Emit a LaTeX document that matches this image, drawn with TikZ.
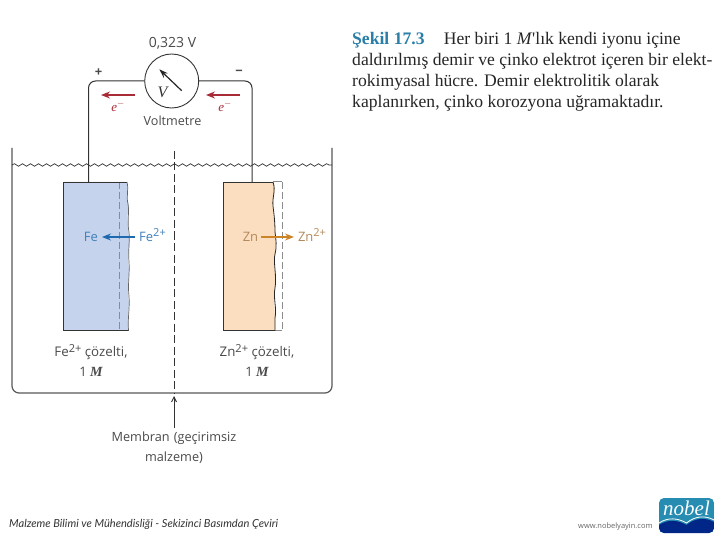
\documentclass[tikz,border=0pt]{standalone}
\usepackage{fontspec}
\setmainfont{Open Sans}
\newfontfamily\serifx{Liberation Serif}
\newfontfamily\footx{Lato}
\usetikzlibrary{decorations.pathmorphing,arrows.meta}
\definecolor{feblue}{HTML}{C5D3EC}
\definecolor{znorange}{HTML}{FBDDBF}
\definecolor{ionblue}{HTML}{1F6AAE}
\definecolor{znarrow}{HTML}{CC8426}
\definecolor{zntext}{HTML}{B58A5C}
\definecolor{redarrow}{HTML}{A82C38}
\definecolor{txt}{HTML}{4A4A4A}
\definecolor{capblue}{HTML}{2A7FA8}
\newcommand{\ionsup}[1]{\raisebox{0.62ex}{\fontsize{11}{11}\selectfont #1}}
\tikzset{
  lbl/.style={font=\fontsize{12.6}{12.6}\selectfont, text=txt, inner sep=0pt, align=center},
  captxt/.style={font=\fontsize{17.6}{17.6}\serifx, text=black!85, inner sep=0pt, anchor=base west},
  wire/.style={draw=black!80, line width=1pt},
  redarr/.style={draw=redarrow, line width=1.3pt, -{Stealth[length=9pt,width=7pt]}},
  elabel/.style={font=\fontsize{13}{13}\serifx\itshape, text=redarrow, inner sep=0pt},
  water/.style={draw=black!80, line width=0.7pt, decorate, decoration={snake, segment length=8pt, amplitude=1.3pt}},
  dashgray/.style={draw=black!45, line width=1pt, dash pattern=on 7pt off 3pt},
  rough/.style={draw=black!85, line width=0.8pt},
}
\begin{document}
\begin{tikzpicture}[x=1pt,y=-1pt]
\useasboundingbox (0,0) rectangle (720,540);
\fill[white] (0,0) rectangle (720,540);
% tank
\draw[draw=black!65, line width=1.2pt, rounded corners=7pt] (12,148) -- (12,393) -- (332,393) -- (332,148);
\draw[water] (12,165) -- (332,165);
% electrodes
\fill[feblue] (63.5,182) -- (127,182) -- (128,190) -- (127,198) -- (129,206) -- (127.5,216) -- (128,226) -- (129.5,244) -- (128,256) -- (129,272) -- (128,290) -- (129,305) -- (128,318) -- (128.5,330.5) -- (63.5,330.5) -- cycle;
\fill[znorange] (223.3,182) -- (273,182) -- (275,190) -- (273,200) -- (273,212) -- (275,225) -- (276,246) -- (274,262) -- (276,280) -- (274,300) -- (275,318) -- (275,330.5) -- (223.3,330.5) -- cycle;
\draw[dashgray] (119,182) -- (119,330.5);
\draw[draw=black!45, line width=1pt] (273,182) -- (282,182) (275,330.5) -- (282,330.5);
\draw[dashgray] (282,182) -- (282,330.5);
\draw[draw=black!80, line width=0.9pt] (127,182) -- (63.5,182) -- (63.5,330.5) -- (128.5,330.5);
\draw[rough, draw=black!60, line width=0.7pt] (127,182) .. controls (129,190) and (126,196) .. (128,204) .. controls (129.5,212) and (127,222) .. (129,232) .. controls (130,240) and (128,250) .. (129,262) .. controls (130,272) and (127.5,284) .. (129,296) .. controls (130,308) and (127.5,318) .. (128.5,330.5);
\draw[draw=black!80, line width=0.9pt] (273,182) -- (223.3,182) -- (223.3,330.5) -- (275,330.5);
\draw[rough] (273,182) .. controls (276,190) and (272,198) .. (273,206) .. controls (274,214) and (275,222) .. (275,232) .. controls (276,240) and (277,246) .. (275,254) .. controls (273,262) and (277,276) .. (275,288) .. controls (273,298) and (277,308) .. (275,318) -- (275,330.5);
% membrane
\draw[draw=black!80, line width=1pt, dash pattern=on 8pt off 3.5pt] (174,151) -- (174,393);
% meter
\node (meter) [circle, draw=black!80, line width=0.9pt, minimum size=54pt, inner sep=0pt] at (171.7,81) {};
\coordinate (needleA) at (181.7,90.7);
\coordinate (needleB) at (159.3,69.3);
\draw[draw=black!85, line width=1.2pt, -{Stealth[length=9pt,width=6pt]}] (needleA) -- (needleB);
\node (vv) [font=\fontsize{16}{16}\serifx\itshape, text=black!80, inner sep=0pt] at (162.5,92) {V};
\node (topfe) [inner sep=0pt, minimum size=0pt] at (88.5,182) {};
\node (topzn) [inner sep=0pt, minimum size=0pt] at (252,182) {};
\draw[wire, rounded corners=7pt] (meter.west) -- (88.5,81) -- (topfe);
\draw[wire, rounded corners=7pt] (meter.east) -- (252,81) -- (topzn);
\node (volt) [lbl, font=\fontsize{14}{14}\selectfont] at (172.5,43) {0,323 V};
\node (plus) [lbl, font=\fontsize{13}{13}\selectfont\bfseries] at (98.5,72.5) {+};
\node (minus) [lbl, font=\fontsize{13}{13}\selectfont\bfseries] at (239,72.5) {−};
\node (vmname) [lbl] at (172.5,121) {Voltmetre};
% electron arrows
\coordinate (ra1) at (135,95); \coordinate (ra2) at (101,95);
\coordinate (rb1) at (240,95); \coordinate (rb2) at (206,95);
\draw[redarr] (ra1) -- (ra2);
\draw[redarr] (rb1) -- (rb2);
\node (e1) [elabel] at (118,106.5) {e$^{-}$};
\node (e2) [elabel] at (225,106.5) {e$^{-}$};
% ions
\node (fe) [lbl, text=ionblue!85!white, font=\fontsize{13}{13}\selectfont] at (91,237) {Fe};
\node (fei) [lbl, text=ionblue!85!white, font=\fontsize{13}{13}\selectfont] at (152.5,235) {Fe\ionsup{2+}};
\coordinate (fs) at (135,237); \coordinate (fe2) at (102,237);
\draw[draw=ionblue, line width=1.3pt, -{Stealth[length=9pt,width=7pt]}] (fs) -- (fe2);
\node (zn) [lbl, text=zntext, font=\fontsize{13}{13}\selectfont] at (250.5,237) {Zn};
\node (zni) [lbl, text=zntext, font=\fontsize{13}{13}\selectfont] at (312,235) {Zn\ionsup{2+}};
\coordinate (zs) at (261,237); \coordinate (ze) at (294,237);
\draw[draw=znarrow, line width=1.3pt, -{Stealth[length=9pt,width=7pt]}] (zs) -- (ze);
% solutions
\node (fes) [lbl, font=\fontsize{13.3}{13.3}\selectfont] at (91,352) {Fe\ionsup{2+} çözelti,};
\node (fem) [lbl, font=\fontsize{13}{13}\selectfont] at (91,372) {1 {\fontsize{14}{14}\serifx\bfseries\itshape M}};
\node (zns) [lbl, font=\fontsize{13.3}{13.3}\selectfont] at (257,352) {Zn\ionsup{2+} çözelti,};
\node (znm) [lbl, font=\fontsize{13}{13}\selectfont] at (257,372) {1 {\fontsize{14}{14}\serifx\bfseries\itshape M}};
\node (mem) [lbl, anchor=north, text width=150pt, font=\fontsize{12.7}{19.5}\selectfont] at (174,432) {Membran (geçirimsiz\\malzeme)};
\coordinate (mtip) at (174,396);
\coordinate (mstart) at (174,428);
\draw[draw=black!80, line width=0.9pt, -{Straight Barb[length=5pt,width=5pt]}] (mstart) -- (mtip);
% caption
\node (c1) [captxt] at (352,44.5) {{\color{capblue}\bfseries Şekil 17.3}\hspace{0.85em} Her biri 1 \textit{M}'lık kendi iyonu içine};
\node (c2) [captxt] at (352,65.5) {daldırılmış demir ve çinko elektrot içeren bir elekt-};
\node (c3) [captxt] at (352,87) {rokimyasal hücre. Demir elektrolitik olarak};
\node (c4) [captxt] at (352,108) {kaplanırken, çinko korozyona uğramaktadır.};
% footer
\node (foot) [anchor=base west, inner sep=0pt, font=\fontsize{11.1}{11}\footx\itshape, text=black!80] at (9,527.5) {Malzeme Bilimi ve Mühendisliği - Sekizinci Basımdan Çeviri};
\node (web) [anchor=base west, inner sep=0pt, font=\fontsize{7.5}{8}\selectfont, text=black!60] at (578,528) {www.nobelyayin.com};
% logo
\begin{scope}
\clip[rounded corners=5pt] (659,498) rectangle (714,533);
\fill[capblue!90!cyan] (659,498) rectangle (714,533);
\fill[blue!45!black!85!cyan] (659,533) -- (659,525) .. controls (668,519) and (678,520) .. (686.5,525) .. controls (695,518) and (705,517) .. (714,522) -- (714,533) -- cycle;
\draw[white, line width=0.8pt] (659,523) .. controls (668,517) and (678,518) .. (686.5,523) .. controls (695,516) and (705,515) .. (714,520);
\end{scope}
\node (logo) [font=\fontsize{21}{21}\serifx\itshape, text=white, inner sep=0pt] at (686.5,508.5) {nobel};
\end{tikzpicture}
\end{document}
